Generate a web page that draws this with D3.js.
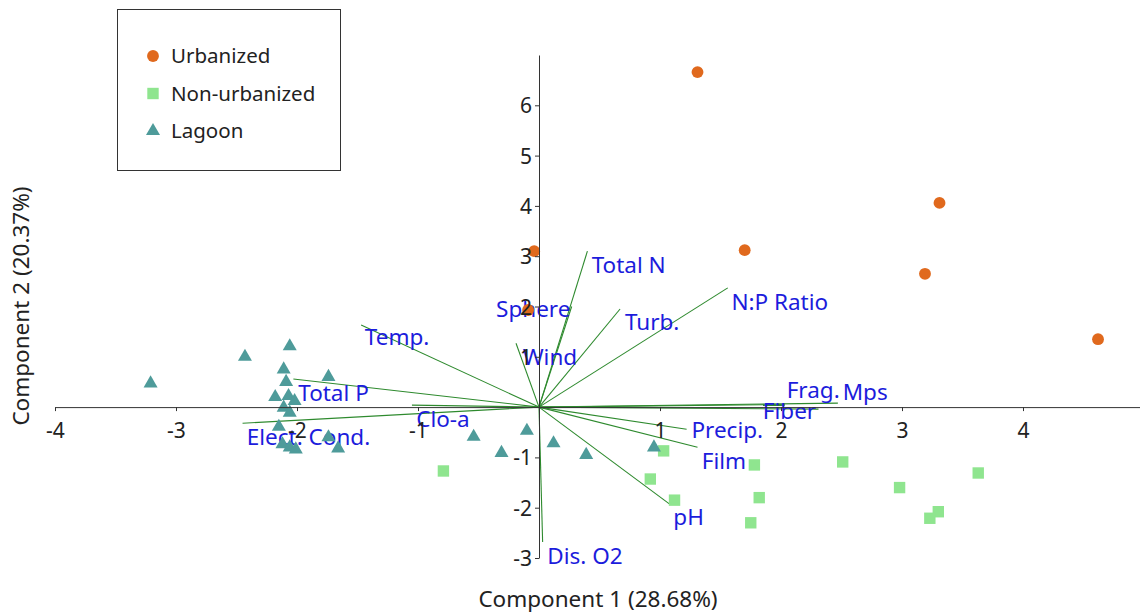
<!DOCTYPE html>
<html>
<head>
<meta charset="utf-8">
<script src="https://cdn.jsdelivr.net/npm/d3@7"></script>
<style>
  html, body { margin: 0; padding: 0; background: #fff; }
  svg { display: block; font-family: "Noto Sans", "Open Sans", sans-serif; }
</style>
</head>
<body>
<svg id="chart" width="1140" height="616"></svg>
<script>
// PCA biplot: sample scores by site group and variable loadings.

const groups = ["Urbanized", "Non-urbanized", "Lagoon"];

// Scores on component 1 / component 2
const urbanizedX = [1.31, -0.04, -0.09, 1.70, 3.31, 3.19, 4.62];
const urbanizedY = [6.66, 3.10, 1.93, 3.12, 4.06, 2.65, 1.35];

const nonUrbanX = [1.03, 1.78, 2.51, 3.63, 0.92, 2.98, 1.12, 1.82, 1.75, 3.30, 3.23, -0.79];
const nonUrbanY = [-0.87, -1.15, -1.09, -1.31, -1.43, -1.60, -1.85, -1.80, -2.30, -2.08, -2.21, -1.27];

const lagoonX = [-3.21, -2.43, -2.06, -2.11, -2.09, -1.74, -2.18, -2.07, -2.02, -2.11, -2.06, -2.15,
                 -2.12, -2.06, -2.01, -1.74, -1.66, -0.54, -0.31, -0.10, 0.12, 0.39, 0.95];
const lagoonY = [0.47, 1.00, 1.21, 0.75, 0.50, 0.60, 0.20, 0.22, 0.12, -0.01, -0.11, -0.39,
                 -0.74, -0.80, -0.84, -0.60, -0.82, -0.59, -0.91, -0.47, -0.72, -0.95, -0.80];

// Variable loadings (arrow tips) and where each name is written, in score units
const variables = ["Total N", "Sphere", "Turb.", "N:P Ratio", "Wind", "Temp.", "Total P", "Elect. Cond.",
                   "Clo-a", "Frag.", "Mps", "Fiber", "Precip.", "Film", "pH", "Dis. O2"];
const loadX = [0.40, 0.27, 0.67, 1.56, -0.19, -1.47, -2.03, -2.45, -1.05, 2.03, 2.47, 2.31, 1.22, 1.31, 1.08, 0.03];
const loadY = [3.10, 2.00, 1.95, 2.37, 1.27, 1.63, 0.56, -0.32, 0.04, 0.05, 0.08, -0.04, -0.44, -0.80, -1.93, -2.68];
const labelX = [0.435, -0.355, 0.71, 1.59, -0.135, -1.44, -1.99, -2.415, -1.015, 2.047, 2.51, 1.85, 1.26, 1.345, 1.11, 0.069];
const labelY = [2.66, 1.80, 1.53, 1.93, 0.835, 1.23, 0.125, -0.755, -0.39, 0.19, 0.14, -0.245, -0.62, -1.24, -2.35, -3.11];

const xTicks = [-4, -3, -2, -1, 1, 2, 3, 4];
const yTicks = [-3, -2, -1, 1, 2, 3, 4, 5, 6];
const xTitle = "Component 1 (28.68%)";
const yTitle = "Component 2 (20.37%)";

const colors = { "Urbanized": "#e0691d", "Non-urbanized": "#8fe58f", "Lagoon": "#4e9b9a" };
const shapes = { "Urbanized": d3.symbolCircle, "Non-urbanized": d3.symbolSquare, "Lagoon": d3.symbolTriangle };
const sizes = { "Urbanized": 110, "Non-urbanized": 130, "Lagoon": 85 };

const svg = d3.select("#chart");
const x = d3.scaleLinear().domain([-4, 5]).range([55, 1144]);
const y = d3.scaleLinear().domain([-3, 7]).range([558, 55]);

const points = [
  ...urbanizedX.map((v, i) => ({ g: "Urbanized", x: v, y: urbanizedY[i] })),
  ...nonUrbanX.map((v, i) => ({ g: "Non-urbanized", x: v, y: nonUrbanY[i] })),
  ...lagoonX.map((v, i) => ({ g: "Lagoon", x: v, y: lagoonY[i] }))
];
const loadings = variables.map((name, i) => ({ name, x: loadX[i], y: loadY[i], lx: labelX[i], ly: labelY[i] }));

// Loading vectors
svg.append("g").selectAll("line").data(loadings).join("line")
  .attr("x1", x(0)).attr("y1", y(0))
  .attr("x2", d => x(d.x)).attr("y2", d => y(d.y))
  .attr("stroke", "#2e8a2e").attr("stroke-width", 1.1);

svg.append("g").selectAll("text").data(loadings).join("text")
  .attr("x", d => x(d.lx)).attr("y", d => y(d.ly))
  .attr("font-size", 22.5).attr("fill", "#1c1cdc")
  .text(d => d.name);

// Scores
svg.append("g").selectAll("path").data(points).join("path")
  .attr("transform", d => `translate(${x(d.x)},${y(d.y)})`)
  .attr("d", d => d3.symbol(shapes[d.g], sizes[d.g])())
  .attr("fill", d => colors[d.g]);

// Axes crossing at the origin
const plain = d => String(d);
const gx = svg.append("g").attr("transform", `translate(0,${y(0)})`)
  .call(d3.axisBottom(x).tickValues(xTicks).tickFormat(plain).tickSize(4).tickSizeOuter(0).tickPadding(12));
const gy = svg.append("g").attr("transform", `translate(${x(0)},0)`)
  .call(d3.axisLeft(y).tickValues(yTicks).tickFormat(plain).tickSize(4).tickSizeOuter(0).tickPadding(3));
[gx, gy].forEach(g => {
  g.select(".domain").attr("stroke", "#333");
  g.selectAll(".tick line").attr("stroke", "#333");
  g.selectAll(".tick text").attr("font-size", 21).attr("fill", "#222")
    .attr("font-family", "'Noto Sans', sans-serif");
});
gy.selectAll(".tick text").attr("dy", "0.36em");

// Axis titles
svg.append("text").attr("x", 598).attr("y", 607).attr("text-anchor", "middle")
  .attr("font-size", 22.5).attr("fill", "#222").text(xTitle);
svg.append("text").attr("transform", "translate(29,306) rotate(-90)").attr("text-anchor", "middle")
  .attr("font-size", 22.5).attr("fill", "#222").text(yTitle);

// Legend
const legend = svg.append("g");
legend.append("rect").attr("x", 117.5).attr("y", 9.5).attr("width", 223).attr("height", 161)
  .attr("fill", "#fff").attr("stroke", "#333").attr("stroke-width", 1);
groups.forEach((g, i) => {
  const cy = 56 + i * 37.5;
  legend.append("path").attr("transform", `translate(153,${cy})`)
    .attr("d", d3.symbol(shapes[g], sizes[g])()).attr("fill", colors[g]);
  legend.append("text").attr("x", 171).attr("y", cy + 7).attr("font-size", 20.5).attr("fill", "#222").text(g);
});
</script>
</body>
</html>
